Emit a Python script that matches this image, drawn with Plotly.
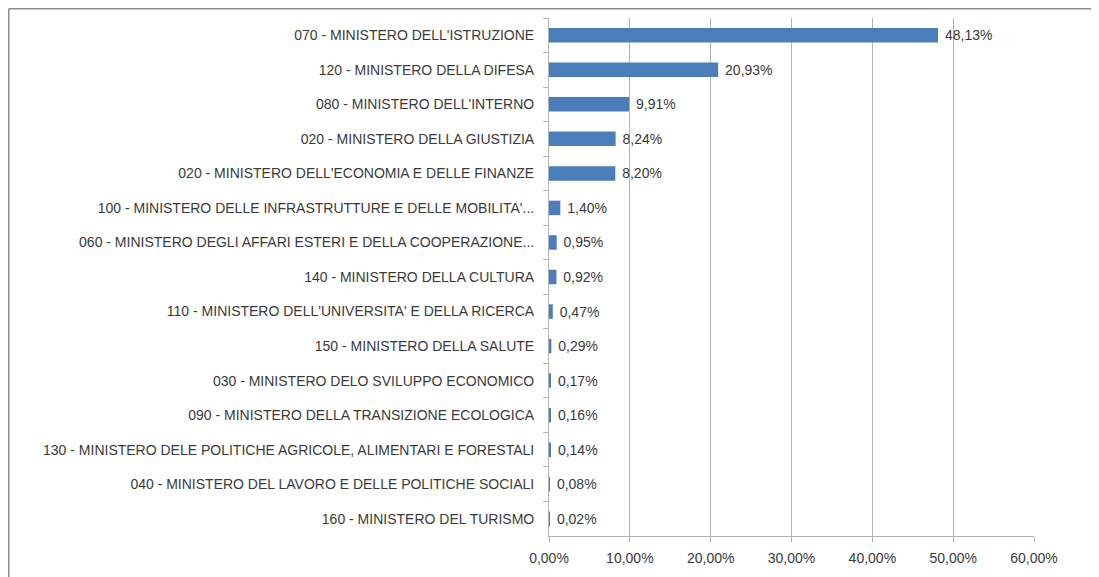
import plotly.graph_objects as go

categories = [
    "070 - MINISTERO DELL'ISTRUZIONE",
    "120 - MINISTERO DELLA DIFESA",
    "080 - MINISTERO DELL'INTERNO",
    "020 - MINISTERO DELLA GIUSTIZIA",
    "020 - MINISTERO DELL'ECONOMIA E DELLE FINANZE",
    "100 - MINISTERO DELLE INFRASTRUTTURE E DELLE MOBILITA'...",
    "060 - MINISTERO DEGLI AFFARI ESTERI E DELLA COOPERAZIONE...",
    "140 - MINISTERO DELLA CULTURA",
    "110 - MINISTERO DELL'UNIVERSITA' E DELLA RICERCA",
    "150 - MINISTERO DELLA SALUTE",
    "030 - MINISTERO DELO SVILUPPO ECONOMICO",
    "090 - MINISTERO DELLA TRANSIZIONE ECOLOGICA",
    "130 - MINISTERO DELE POLITICHE AGRICOLE, ALIMENTARI E FORESTALI",
    "040 - MINISTERO DEL LAVORO E DELLE POLITICHE SOCIALI",
    "160 - MINISTERO DEL TURISMO",
]
values = [48.13, 20.93, 9.91, 8.24, 8.20, 1.40, 0.95, 0.92, 0.47, 0.29, 0.17, 0.16, 0.14, 0.08, 0.02]
value_labels = ["48,13%", "20,93%", "9,91%", "8,24%", "8,20%", "1,40%", "0,95%", "0,92%",
                "0,47%", "0,29%", "0,17%", "0,16%", "0,14%", "0,08%", "0,02%"]
x_tickvals = [0, 10, 20, 30, 40, 50, 60]
x_ticktext = ["0,00%", "10,00%", "20,00%", "30,00%", "40,00%", "50,00%", "60,00%"]

FONT = "Liberation Sans Narrow, Arial Narrow, Liberation Sans, Arial, sans-serif"
TXT = "#3a3a3a"

fig = go.Figure(go.Bar(
    x=values, y=categories, orientation="h",
    marker=dict(color="#4a7ebb", line=dict(color="#4a7ebb", width=0)),
    text=value_labels, texttemplate="\u00a0%{text}",
    textposition="outside", cliponaxis=False, constraintext="none",
    textfont=dict(family=FONT, size=14, color=TXT),
))

# figure sits inside the page's 8px body margin
W, H = 1091, 569
L, R, T, B = 541, 65, 10, 41
pw, ph = W - L - R, H - T - B

fig.update_layout(
    width=W, height=H,
    margin=dict(l=L, r=R, t=T, b=B, pad=0, autoexpand=False),
    paper_bgcolor="white", plot_bgcolor="white",
    bargap=0.58, showlegend=False,
    uniformtext=dict(minsize=14, mode="show"),
    font=dict(family=FONT, size=14, color=TXT),
    xaxis=dict(range=[0, 60], tickvals=x_tickvals, ticktext=x_ticktext,
               showgrid=True, gridcolor="#b3b3b3", gridwidth=1,
               showline=True, linecolor="#b3b3b3", linewidth=1,
               ticks="outside", ticklen=5, tickcolor="#b3b3b3",
               zeroline=False, tickfont=dict(family=FONT, size=14, color=TXT),
               ticklabelstandoff=4, automargin=False, fixedrange=True),
    yaxis=dict(autorange="reversed", type="category",
               showline=True, linecolor="#b3b3b3", linewidth=1,
               ticks="outside", ticklen=5, tickcolor="#b3b3b3", tickson="boundaries",
               showgrid=False, tickfont=dict(family=FONT, size=14, color=TXT),
               ticklabelstandoff=11, automargin=False, fixedrange=True),
    shapes=[
        dict(type="line", xref="paper", yref="paper",
             x0=(0.75 - L) / pw, x1=(W - L) / pw, y0=1 + (T - 0.75) / ph, y1=1 + (T - 0.75) / ph,
             line=dict(color="#8c8c8c", width=1.5)),
        dict(type="line", xref="paper", yref="paper",
             x0=(0.75 - L) / pw, x1=(0.75 - L) / pw, y0=1 + (T - 0.75) / ph, y1=-B / ph,
             line=dict(color="#8c8c8c", width=1.5)),
    ],
)

fig.write_html("out.html")
